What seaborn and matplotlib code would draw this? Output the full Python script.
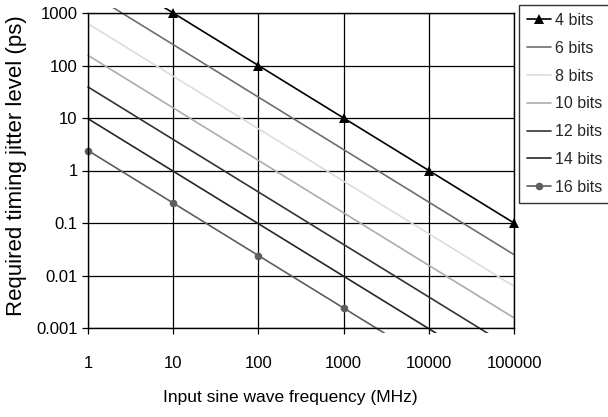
import matplotlib
matplotlib.use("Agg")
import matplotlib.pyplot as plt
import matplotlib.ticker as mticker
from matplotlib.patches import Rectangle
import seaborn as sns
import pandas as pd

freqs = [1, 10, 100, 1000, 10000, 100000]
bits_labels = ["4 bits", "6 bits", "8 bits", "10 bits", "12 bits", "14 bits", "16 bits"]
jitter_4 = [10000, 1000, 100, 10, 1, 0.1]
jitter_6 = [2500, 250, 25, 2.5, 0.25, 0.025]
jitter_8 = [625, 62.5, 6.25, 0.625, 0.0625, 0.00625]
jitter_10 = [156, 15.6, 1.56, 0.156, 0.0156, 0.00156]
jitter_12 = [39, 3.9, 0.39, 0.039, 0.0039, 0.00039]
jitter_14 = [9.7, 0.97, 0.097, 0.0097, 0.00097, 0.000097]
jitter_16 = [2.4, 0.24, 0.024, 0.0024, 0.00024, 0.000024]
series = [jitter_4, jitter_6, jitter_8, jitter_10, jitter_12, jitter_14, jitter_16]
yticks = [0.001, 0.01, 0.1, 1, 10, 100, 1000]

colors = ["#000000", "#6e6e6e", "#dcdcdc", "#acacac", "#333333", "#262626", "#5e5e5e"]
markers = ["^", None, None, None, None, None, "o"]
msizes = [6.5, None, None, None, None, None, 5.5]

sns.set_theme(style="white")
plt.rcParams["font.family"] = ["Liberation Sans", "DejaVu Sans"]

fig = plt.figure(figsize=(6.08, 4.17), dpi=100)
ax = fig.add_axes([88/608, 1-328/417, (514-88)/608, (328-13)/417])

for lab, vals, col, mk, ms in zip(bits_labels, series, colors, markers, msizes):
    d = pd.DataFrame({"freq": freqs, "jitter": vals})
    kw = {}
    if mk:
        kw = dict(marker=mk, markersize=ms, markeredgewidth=0)
    sns.lineplot(data=d, x="freq", y="jitter", color=col, linewidth=1.2,
                 label=lab, ax=ax, **kw)

ax.set_xscale("log")
ax.set_yscale("log")
ax.set_xlim(1, 100000)
ax.set_ylim(0.001, 1000)

clip = Rectangle((-0.012, -0.015), 1.024, 1.03, transform=ax.transAxes, facecolor="none", edgecolor="none")
ax.add_patch(clip)
for ln in ax.get_lines():
    ln.set_clip_path(clip)

ax.xaxis.set_major_locator(mticker.FixedLocator(freqs))
ax.yaxis.set_major_locator(mticker.FixedLocator(yticks))
ax.xaxis.set_minor_locator(mticker.NullLocator())
ax.yaxis.set_minor_locator(mticker.NullLocator())
fmt = mticker.FuncFormatter(lambda v, p: "%g" % v)
ax.xaxis.set_major_formatter(fmt)
ax.yaxis.set_major_formatter(fmt)
ax.grid(True, color="black", linewidth=0.9)
for s in ax.spines.values():
    s.set_color("black")
    s.set_linewidth(1.0)
ax.tick_params(axis="both", which="major", direction="out", length=4.5, width=0.9,
               color="black", labelsize=12, labelcolor="black", left=True, bottom=True)
ax.tick_params(axis="x", pad=16)
ax.tick_params(axis="y", pad=3)
ax.set_xlabel("Input sine wave frequency (MHz)", fontsize=12.5, color="black")
ax.set_ylabel("Required timing jitter level (ps)", fontsize=16, color="black")
ax.xaxis.set_label_coords(0.475, -0.196)
ax.yaxis.set_label_coords(-0.143, 0.517)

handles, labels = ax.get_legend_handles_labels()
ax.get_legend().remove()
leg = fig.legend(handles, labels, loc="upper left", bbox_to_anchor=(519/608, 1-5/417),
                 frameon=True, fancybox=False, edgecolor="black", fontsize=11.5,
                 handlelength=1.5, handletextpad=0.25, labelspacing=0.8,
                 borderpad=0.5, borderaxespad=0)
leg.get_frame().set_linewidth(1.0)

fig.savefig("out.png", dpi=100)
